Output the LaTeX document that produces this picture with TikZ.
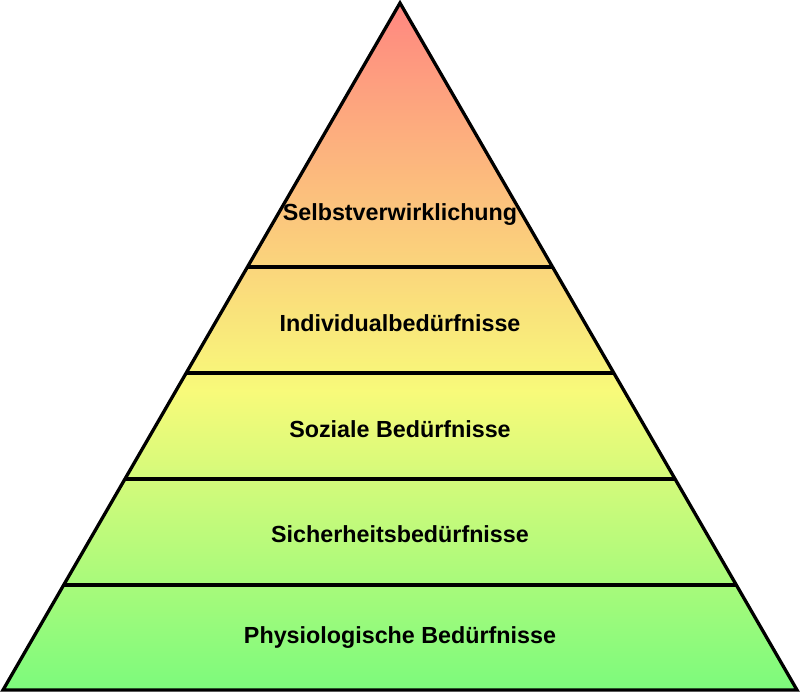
\documentclass[tikz,border=0pt]{standalone}
\usepackage{fontspec}
\setmainfont{Liberation Sans}
\definecolor{pr}{RGB}{255,135,128}
\definecolor{py}{RGB}{248,250,122}
\definecolor{pg}{RGB}{124,250,124}
\pgfdeclareverticalshading{pyr}{100bp}{color(0bp)=(pg); color(25bp)=(pg); color(46.8bp)=(py); color(75bp)=(pr); color(100bp)=(pr)}
\tikzset{
  lvl/.style={font=\bfseries\fontsize{23.3}{28}\selectfont, inner sep=0pt, anchor=center},
  edge/.style={line width=3.3pt, black}
}
\begin{document}
\begin{tikzpicture}[x=1pt,y=-1pt]
\useasboundingbox (0,0) rectangle (800,693);
\coordinate (A) at (400,3);
\coordinate (L) at (3,690);
\coordinate (R) at (797,690);
\shade[shading=pyr] (A) -- (L) -- (R) -- cycle;
% level lines
\foreach \y/\n in {267/a,373/b,479/c,585/d}{
  \pgfmathsetmacro{\dx}{0.577875*(\y-3)}
  \coordinate (l\n) at ({400-\dx},\y);
  \coordinate (r\n) at ({400+\dx},\y);
}
\draw[edge] (la) -- (ra);
\draw[edge] (lb) -- (rb);
\draw[edge] (lc) -- (rc);
\draw[edge] (ld) -- (rd);
\draw[edge, line join=miter] (A) -- (L) -- (R) -- cycle;
\node[lvl] (t1) at (400,215) {Selbstverwirklichung};
\node[lvl] (t2) at (400,323) {Individualbedürfnisse};
\node[lvl] (t3) at (400,429) {Soziale Bedürfnisse};
\node[lvl] (t4) at (400,534) {Sicherheitsbedürfnisse};
\node[lvl] (t5) at (400,638) {Physiologische Bedürfnisse};
\end{tikzpicture}
\end{document}
